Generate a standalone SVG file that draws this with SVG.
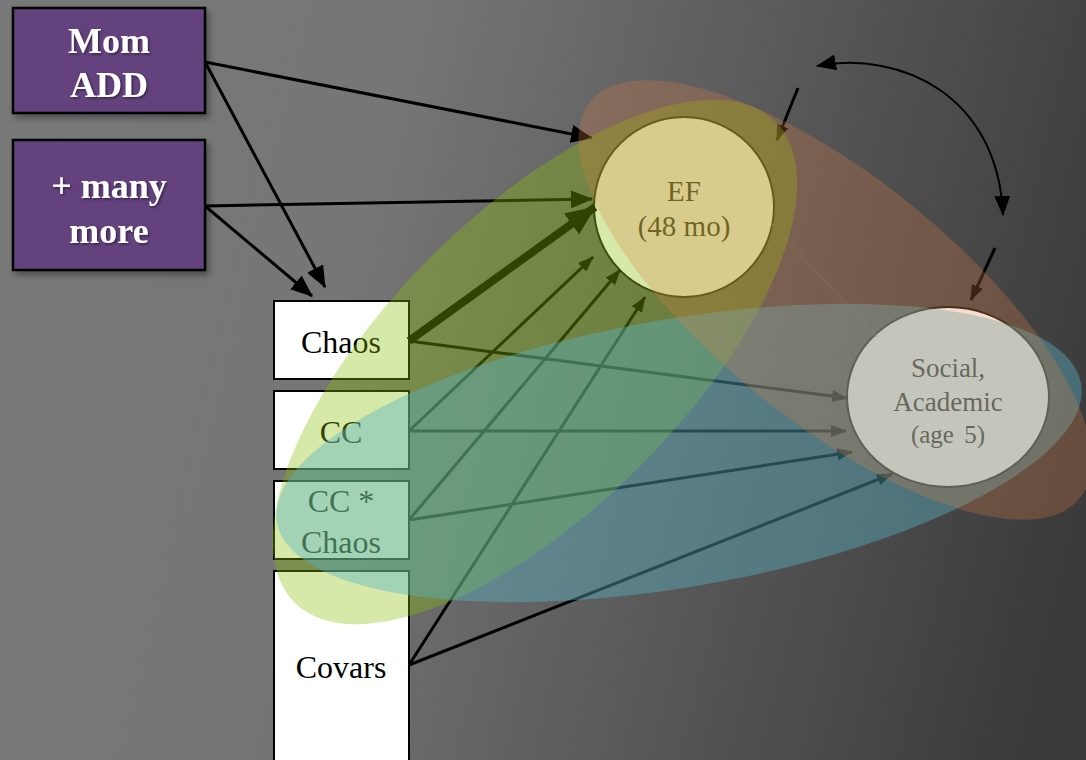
<svg xmlns="http://www.w3.org/2000/svg" width="1086" height="760" viewBox="0 0 1086 760">
<defs>
<linearGradient id="bg" gradientUnits="userSpaceOnUse" x1="0" y1="300" x2="1086" y2="560">
<stop offset="0" stop-color="#787878"/>
<stop offset="0.3" stop-color="#767676"/>
<stop offset="1" stop-color="#393939"/>
</linearGradient>
<filter id="sh" x="-10%" y="-10%" width="130%" height="130%">
<feDropShadow dx="3" dy="4" stdDeviation="3" flood-color="#000" flood-opacity="0.35"/>
</filter>
<filter id="tsh" x="-10%" y="-10%" width="130%" height="130%">
<feDropShadow dx="1.5" dy="1.5" stdDeviation="1" flood-color="#000" flood-opacity="0.45"/>
</filter>
<marker id="big" markerUnits="userSpaceOnUse" markerWidth="22" markerHeight="18" refX="21" refY="9" orient="auto">
<path d="M0,0 L22,9 L0,18 z" fill="#000"/>
</marker>
<marker id="sm" markerUnits="userSpaceOnUse" markerWidth="16" markerHeight="12" refX="15" refY="6" orient="auto">
<path d="M0,0 L16,6 L0,12 z" fill="#000"/>
</marker>
<marker id="thick" markerUnits="userSpaceOnUse" markerWidth="30" markerHeight="26" refX="29" refY="13" orient="auto">
<path d="M0,0 L30,13 L0,26 z" fill="#000"/>
</marker>
<marker id="cur" markerUnits="userSpaceOnUse" markerWidth="20" markerHeight="16" refX="19" refY="8" orient="auto-start-reverse">
<path d="M0,0 L20,8 L0,16 z" fill="#000"/>
</marker>
<marker id="faint" markerUnits="userSpaceOnUse" markerWidth="8" markerHeight="6" refX="7" refY="3" orient="auto-start-reverse">
<path d="M0,0 L8,3 L0,6 z" fill="#555"/>
</marker>
</defs>
<style>
.pbox{fill:#63437d;stroke:#000;stroke-width:2.5}
.ptxt{font-family:"Liberation Serif","Times New Roman",serif;font-weight:bold;font-size:36px;fill:#fff;text-anchor:middle}
.wbox{fill:#fff;stroke:#000;stroke-width:2}
.wtxt{font-family:"Liberation Serif","Times New Roman",serif;font-size:32px;fill:#000;text-anchor:middle}
.circ{fill:#fff;stroke:#111;stroke-width:2}
.ctxt{font-family:"Liberation Serif","Times New Roman",serif;fill:#262626;text-anchor:middle}
.con{fill:none;stroke:#000}
</style>
<rect x="0" y="0" width="1086" height="760" fill="url(#bg)"/>

<g id="node-momadd">
<rect class="pbox" x="13" y="8" width="192" height="105" filter="url(#sh)"/>
<text class="ptxt" x="109" y="53" filter="url(#tsh)">Mom</text>
<text class="ptxt" x="109" y="97" filter="url(#tsh)">ADD</text>
</g>
<g id="node-manymore">
<rect class="pbox" x="13" y="140" width="192" height="130" filter="url(#sh)"/>
<text class="ptxt" x="109" y="198" filter="url(#tsh)">+ many</text>
<text class="ptxt" x="109" y="243" filter="url(#tsh)">more</text>
</g>
<g id="node-chaos">
<rect class="wbox" x="274" y="301" width="135" height="78"/>
<text class="wtxt" x="341" y="353" font-family="Liberation Serif, serif">Chaos</text>
</g>
<g id="node-cc">
<rect class="wbox" x="274" y="391" width="135" height="78"/>
<text class="wtxt" x="341" y="443" font-family="Liberation Serif, serif">CC</text>
</g>
<g id="node-ccchaos">
<rect class="wbox" x="274" y="481" width="135" height="78"/>
<text class="wtxt" x="341" y="512" font-family="Liberation Serif, serif">CC *</text>
<text class="wtxt" x="341" y="553" font-family="Liberation Serif, serif">Chaos</text>
</g>
<g id="node-covars">
<rect class="wbox" x="274" y="571" width="135" height="200"/>
<text class="wtxt" x="341" y="678" font-family="Liberation Serif, serif">Covars</text>
</g>
<g id="node-ef">
<circle class="circ" cx="684" cy="207" r="90"/>
<text class="ctxt" x="684" y="201" font-size="29" font-family="Liberation Serif, serif">EF</text>
<text class="ctxt" x="684" y="236" font-size="29" font-family="Liberation Serif, serif">(48 mo)</text>
</g>
<g id="node-social">
<ellipse class="circ" cx="948" cy="397" rx="101" ry="90"/>
<text class="ctxt" x="948" y="377" font-size="27">Social,</text>
<text class="ctxt" x="948" y="411" font-size="27">Academic</text>
<text class="ctxt" x="948" y="443" font-size="25" word-spacing="4">(age 5)</text>
</g>

<g id="connectors">
<path class="con" style="stroke-width:3" d="M205,62 L592,138" marker-end="url(#big)"/>
<path class="con" style="stroke-width:3" d="M205,62 L325,287" marker-end="url(#big)"/>
<path class="con" style="stroke-width:3" d="M205,206 L592,199" marker-end="url(#big)"/>
<path class="con" style="stroke-width:3" d="M205,206 L312,296" marker-end="url(#big)"/>
<path class="con" style="stroke-width:8" d="M409,341 L595,207" marker-end="url(#thick)"/>
<path class="con" style="stroke-width:3" d="M409,341 L847,398" marker-end="url(#sm)"/>
<path class="con" style="stroke-width:3" d="M409,431 L593,257" marker-end="url(#sm)"/>
<path class="con" style="stroke-width:3" d="M409,431 L846,431" marker-end="url(#sm)"/>
<path class="con" style="stroke-width:3" d="M409,520 L620,270" marker-end="url(#sm)"/>
<path class="con" style="stroke-width:3" d="M409,520 L852,452" marker-end="url(#sm)"/>
<path class="con" style="stroke-width:3" d="M409,665 L645,297" marker-end="url(#sm)"/>
<path class="con" style="stroke-width:3" d="M409,665 L892,474" marker-end="url(#sm)"/>
<path class="con" style="stroke-width:3" d="M798,88 L777,140" marker-end="url(#sm)"/>
<path class="con" style="stroke-width:3" d="M995,248 L971,300" marker-end="url(#sm)"/>
<path class="con" style="stroke-width:2" d="M817,66 C900,50 998,95 1003,215" marker-start="url(#cur)" marker-end="url(#cur)"/>
<path d="M772,224 L876,336" fill="none" stroke="#8a8a8a" stroke-opacity="0.12" stroke-width="3" marker-start="url(#faint)" marker-end="url(#faint)"/>
</g>

<g id="overlays">
<ellipse cx="535" cy="362" rx="340" ry="148" transform="rotate(-45 535 362)" fill="#8ac006" fill-opacity="0.35"/>
<ellipse cx="679" cy="453" rx="408" ry="134" transform="rotate(-9.8 679 453)" fill="#5ab4c8" fill-opacity="0.41"/>
<ellipse cx="835" cy="300" rx="315" ry="122" transform="rotate(39 835 300)" fill="#de7e43" fill-opacity="0.27"/>
</g>
</svg>
